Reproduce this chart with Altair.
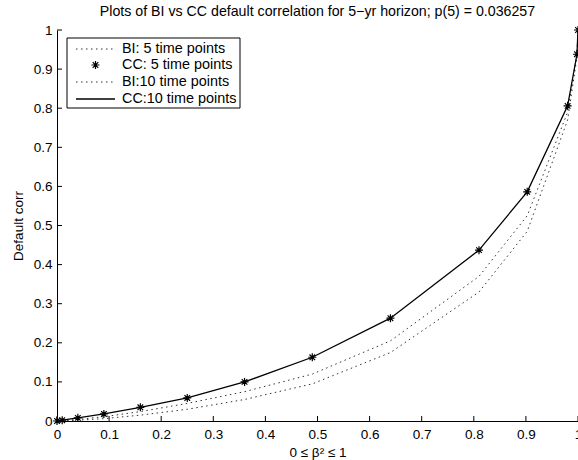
import altair as alt
import pandas as pd

# ---- data ----
beta2 = [0, 0.01, 0.04, 0.09, 0.16, 0.25, 0.36, 0.49, 0.64, 0.81, 0.9025, 0.9801, 0.998, 1]
cc_5 = [0, 0.002, 0.008, 0.018, 0.035, 0.059, 0.100, 0.163, 0.263, 0.437, 0.586, 0.806, 0.938, 1]
cc_10 = [0, 0.002, 0.008, 0.018, 0.035, 0.059, 0.100, 0.163, 0.263, 0.437, 0.586, 0.806, 0.938, 1]
bi_5 = [0, 0.0002, 0.002, 0.006, 0.015, 0.030, 0.055, 0.095, 0.175, 0.330, 0.485, 0.770, 0.930, 1]
bi_10 = [0, 0.0005, 0.004, 0.011, 0.024, 0.045, 0.075, 0.120, 0.205, 0.370, 0.525, 0.790, 0.940, 1]
series_names = ["BI: 5 time points", "CC: 5 time points", "BI:10 time points", "CC:10 time points"]
tick_values = [0, 0.1, 0.2, 0.3, 0.4, 0.5, 0.6, 0.7, 0.8, 0.9, 1]
title_text = "Plots of BI vs CC default correlation for 5\u2212yr horizon; p(5) = 0.036257"
x_title = "0 \u2264 \u03b2\u00b2 \u2264 1"
y_title = "Default corr"

FONT = "Liberation Sans"
W, H = 521, 391

df = pd.DataFrame({
    "x": beta2 * 4,
    "y": bi_5 + cc_5 + bi_10 + cc_10,
    "series": sum([[s] * len(beta2) for s in series_names], []),
})
ticks_df = pd.DataFrame({"t": tick_values})

xs = alt.Scale(domain=[0, 1], nice=False, zero=False)
ys = alt.Scale(domain=[0, 1], nice=False, zero=False)

xaxis = alt.Axis(values=tick_values, ticks=False, grid=False, format="g", labelFlush=False,
                 labelPadding=6, title=x_title, titlePadding=5, labelOverlap=False,
                 tickCount=11)
yaxis = alt.Axis(values=tick_values, ticks=False, grid=False, format="g", labelFlush=False,
                 labelPadding=5, title=y_title, titlePadding=8, labelOverlap=False,
                 tickCount=11)

X = lambda f: alt.X(f, scale=xs, axis=xaxis)
Y = lambda f: alt.Y(f, scale=ys, axis=yaxis)

star = "M-1,0L1,0M0,-1L0,1M-0.7,-0.7L0.7,0.7M-0.7,0.7L0.7,-0.7"

base = alt.Chart(df)

bi_lines = base.transform_filter(
    alt.FieldOneOfPredicate(field="series", oneOf=[series_names[0], series_names[2]])
).mark_line(color="#333", strokeWidth=1, strokeDash=[1.5, 3.5], clip=True).encode(
    x=X("x:Q"), y=Y("y:Q"), detail="series:N",
)

cc_line = base.transform_filter(
    alt.FieldEqualPredicate(field="series", equal=series_names[3])
).mark_line(color="black", strokeWidth=1.3, clip=True).encode(
    x=X("x:Q"), y=Y("y:Q")
)

cc_pts = base.transform_filter(
    alt.FieldEqualPredicate(field="series", equal=series_names[1])
).mark_point(shape=star, size=64, stroke="black", strokeWidth=1.2, filled=False, opacity=1).encode(
    x=X("x:Q"), y=Y("y:Q")
)

xticks = alt.Chart(ticks_df).mark_rule(color="black", strokeWidth=1).encode(
    x=X("t:Q"), y=alt.value(H), y2=alt.value(H - 5)
)
yticks = alt.Chart(ticks_df).mark_rule(color="black", strokeWidth=1).encode(
    y=Y("t:Q"), x=alt.value(0), x2=alt.value(5)
)

# ---- legend (drawn as decoration in pixel space) ----
leg_src = alt.Chart(pd.DataFrame({"k": [0]}))
LX0, LX1, LY0, LY1 = 10, 183, 8, 78
rows_y = [19, 35, 52, 69]
legend_layers = [
    leg_src.mark_rect(fill="white", stroke="black", strokeWidth=1).encode(
        x=alt.value(LX0), x2=alt.value(LX1), y=alt.value(LY0), y2=alt.value(LY1)),
    leg_src.mark_rule(color="#333", strokeWidth=1, strokeDash=[1.5, 3.5]).encode(
        x=alt.value(19), x2=alt.value(58), y=alt.value(rows_y[0])),
    leg_src.mark_point(shape=star, size=64, stroke="black", strokeWidth=1.2, opacity=1).encode(
        x=alt.value(38.5), y=alt.value(rows_y[1])),
    leg_src.mark_rule(color="#333", strokeWidth=1, strokeDash=[1.5, 3.5]).encode(
        x=alt.value(19), x2=alt.value(58), y=alt.value(rows_y[2])),
    leg_src.mark_rule(color="black", strokeWidth=1.3).encode(
        x=alt.value(19), x2=alt.value(58), y=alt.value(rows_y[3])),
]
for name, ry in zip(series_names, rows_y):
    legend_layers.append(
        leg_src.mark_text(text=name, align="left", baseline="middle", font=FONT,
                          fontSize=14.4, color="black").encode(
            x=alt.value(65), y=alt.value(ry))
    )

chart = alt.layer(bi_lines, cc_line, cc_pts, xticks, yticks, *legend_layers).properties(
    width=W, height=H,
    title=alt.TitleParams(title_text, font=FONT, fontSize=14.2, fontWeight="normal",
                          color="black", anchor="middle", offset=4),
    autosize=alt.AutoSizeParams(type="none"),
    padding={"left": 57, "top": 30, "right": 0, "bottom": 39},
    background="white",
).configure_view(stroke=None).configure_axis(
    domainColor="black", domainWidth=1, labelColor="black", titleColor="black",
    labelFont=FONT, titleFont=FONT, labelFontSize=13.5, titleFontSize=13.5,
    titleFontWeight="normal",
)

chart.save("out.html", embed_options={"renderer": "svg", "actions": False})
